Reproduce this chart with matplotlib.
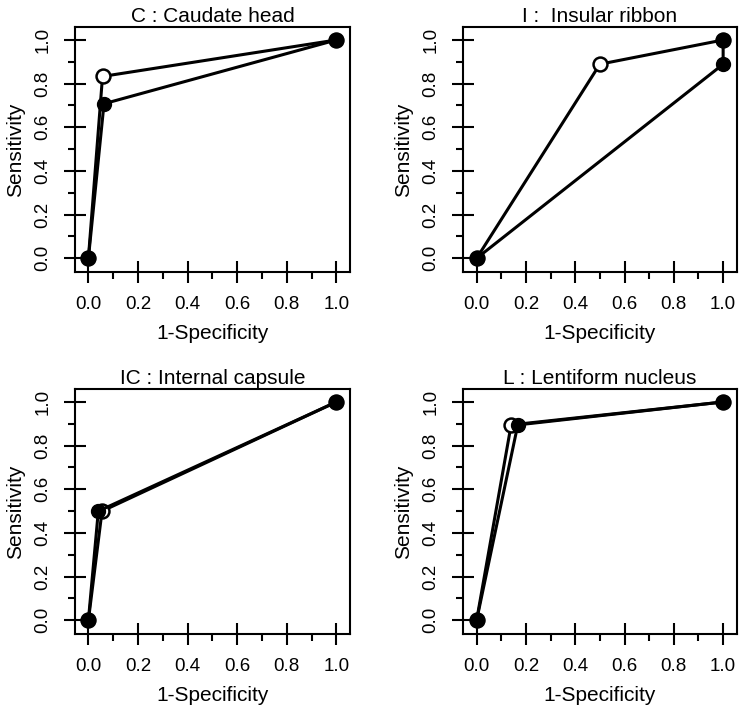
import matplotlib
matplotlib.use("Agg")
import matplotlib.pyplot as plt

plt.rcParams["font.family"] = ["Liberation Sans", "DejaVu Sans"]

# ROC curves per region: one curve with an open middle point, one with a filled one
TITLES = ["C : Caudate head", "I :  Insular ribbon", "IC : Internal capsule", "L : Lentiform nucleus"]
OPEN_X = [[0.0, 0.057, 1.0], [0.0, 0.5, 1.0], [0.0, 0.055, 1.0], [0.0, 0.14, 1.0]]
OPEN_Y = [[0.0, 0.833, 1.0], [0.0, 0.889, 1.0], [0.0, 0.5, 1.0], [0.0, 0.895, 1.0]]
FILL_X = [[0.0, 0.063, 1.0], [0.0, 1.0, 1.0], [0.0, 0.04, 1.0], [0.0, 0.167, 1.0]]
FILL_Y = [[0.0, 0.708, 1.0], [0.0, 0.889, 1.0], [0.0, 0.5, 1.0], [0.0, 0.895, 1.0]]
TICKS = [0.0, 0.2, 0.4, 0.6, 0.8, 1.0]
MINOR = [0.1, 0.3, 0.5, 0.7, 0.9]

fig = plt.figure(figsize=(7.42, 7.11), dpi=100)
boxes = [(75, 27.3, 350, 272.3), (463.3, 27.3, 736.7, 272.3),
         (75, 389.3, 350, 634.3), (463.3, 389.3, 736.7, 634.3)]
W, H = 742, 711

for i, (l, t, r, b) in enumerate(boxes):
    ax = fig.add_axes([l / W, 1 - b / H, (r - l) / W, (b - t) / H])
    ax.plot(OPEN_X[i], OPEN_Y[i], color="black", lw=2.2, marker="o", ms=10,
            mfc="white", mec="black", mew=1.8, zorder=3)
    ax.plot(FILL_X[i], FILL_Y[i], color="black", lw=2.2, marker="o", ms=10,
            mfc="black", mec="black", zorder=4)
    ax.set_xlim(-0.054, 1.055)
    ax.set_ylim(-0.064, 1.058)
    ax.set_xticks(TICKS)
    ax.set_yticks(TICKS)
    ax.set_xticks(MINOR, minor=True)
    ax.set_yticks(MINOR, minor=True)
    ax.set_xticklabels([f"{v:.1f}" for v in TICKS])
    ax.set_yticklabels([f"{v:.1f}" for v in TICKS], rotation=90, va="center")
    ax.tick_params(which="major", direction="inout", length=16, width=1.5,
                   labelsize=13.5, pad=9)
    ax.tick_params(which="minor", direction="out", length=5, width=1.5)
    for s in ax.spines.values():
        s.set_linewidth(1.5)
    ax.set_xlabel("1-Specificity", fontsize=15, labelpad=8)
    ax.set_ylabel("Sensitivity", fontsize=15, labelpad=7)
    ax.set_title(TITLES[i], fontsize=15, pad=4)

fig.savefig("out.png", dpi=100)
